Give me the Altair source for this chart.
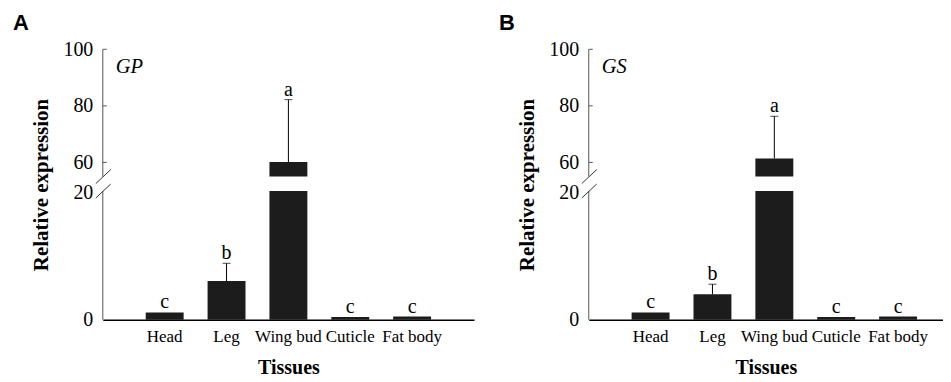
import altair as alt
import pandas as pd

tissues = ["Head", "Leg", "Wing bud", "Cuticle", "Fat body"]

gp_mean = [1.15, 6.1, 60.1, 0.42, 0.5]
gp_err = [0, 2.8, 22.1, 0, 0]
gp_letters = ["c", "b", "a", "c", "c"]

gs_mean = [1.15, 4.0, 61.4, 0.42, 0.5]
gs_err = [0, 1.6, 14.9, 0, 0]
gs_letters = ["c", "b", "a", "c", "c"]

y_labels = [0, 20, 60, 80, 100]
upper_ticks = [60, 80, 100]
break_low = 20.3
break_high = 55
y_max = 100

H = 271
RANGE = [H, 142, 127.5, 0]
SERIF = "Liberation Serif"
SANS = "Liberation Sans"


def panel(gene, means, errs, letters, label, width, po, al):
    df = pd.DataFrame({
        "tissue": tissues,
        "mean": means,
        "err": errs,
        "letter": letters,
    })
    df["top"] = df["mean"] + df["err"]

    yscale = alt.Scale(domain=[0, break_low, break_high, y_max], range=RANGE,
                       nice=False, zero=False)
    xenc = alt.X(
        "tissue:N", sort=tissues,
        scale=alt.Scale(domain=tissues, paddingInner=0.387, paddingOuter=po, align=al),
        axis=alt.Axis(title="Tissues", labelAngle=0, labelFont=SERIF, labelFontSize=17,
                      labelColor="black", labelPadding=9, ticks=False, tickSize=0,
                      labelOverlap=False, labelLimit=0,
                      domainColor="black", domainWidth=1.5,
                      titleFont=SERIF, titleFontSize=20, titleFontWeight="bold",
                      titleColor="black", titlePadding=13),
    )
    yaxis = alt.Axis(values=y_labels, title="Relative expression", domain=False,
                     ticks=False, tickSize=0, grid=False, labelFont=SERIF,
                     labelFontSize=20, labelColor="black", labelPadding=10,
                     titleFont=SERIF, titleFontSize=21, titleFontWeight="bold",
                     titleColor="black", titleAngle=270, titleBaseline="alphabetic",
                     titleX=-55, titleY=H / 2)

    def Y(field):
        return alt.Y(field, scale=yscale, axis=yaxis)

    base = alt.Chart(df)
    bars = base.mark_bar(color="#1c1c1c").encode(x=xenc, y=Y("mean:Q"))

    mask = alt.Chart(pd.DataFrame({"lo": [break_low], "hi": [break_high]})).mark_rect(
        color="white").encode(
        y=Y("lo:Q"), y2="hi:Q", x=alt.value(-4), x2=alt.value(width))

    segs = alt.Chart(pd.DataFrame({"y0": [0, break_high], "y1": [break_low, y_max]})).mark_rule(
        color="#555555", strokeWidth=1).encode(
        x=alt.value(0), y=Y("y0:Q"), y2="y1:Q")

    ticks = alt.Chart(pd.DataFrame({"v": upper_ticks})).mark_rule(
        color="#555555", strokeWidth=1).encode(
        y=Y("v:Q"), x=alt.value(0), x2=alt.value(4))

    one = pd.DataFrame({"k": [0]})
    slash_hi = alt.Chart(one).mark_rule(color="#333333", strokeWidth=1).encode(
        x=alt.value(-7), x2=alt.value(8),
        y=alt.value(RANGE[2] + 7), y2=alt.value(RANGE[2] - 7))
    slash_lo = alt.Chart(one).mark_rule(color="#333333", strokeWidth=1).encode(
        x=alt.value(-7), x2=alt.value(8),
        y=alt.value(RANGE[1] + 7), y2=alt.value(RANGE[1] - 7))

    eb = base.transform_filter("datum.err > 0")
    err_rule = eb.mark_rule(color="black", strokeWidth=1).encode(
        x=xenc, y=Y("mean:Q"), y2="top:Q")
    caps = eb.mark_tick(color="black", thickness=1, size=8).encode(
        x=xenc, y=Y("top:Q"))

    letters_t = base.mark_text(font=SERIF, fontSize=20, baseline="alphabetic", dy=-4,
                               color="black").encode(
        x=xenc, y=Y("top:Q"), text="letter:N")

    gene_t = alt.Chart(pd.DataFrame({"g": [gene]})).mark_text(
        font=SERIF, fontSize=20.5, fontStyle="italic", align="left", baseline="alphabetic",
        color="black").encode(x=alt.value(13), y=alt.value(24), text="g:N")

    label_t = alt.Chart(pd.DataFrame({"p": [label]})).mark_text(
        font=SANS, fontSize=22, fontWeight="bold", align="left", baseline="alphabetic",
        color="black").encode(x=alt.value(-90), y=alt.value(-19), text="p:N")

    return alt.layer(bars, mask, segs, ticks, slash_hi, slash_lo, err_rule, caps,
                     letters_t, gene_t, label_t).properties(width=width, height=H)


pa = panel("GP", gp_mean, gp_err, gp_letters, "A", 372, 0.694, 0.5)
pb = panel("GS", gs_mean, gs_err, gs_letters, "B", 355, 0.556, 0.623)

chart = alt.hconcat(pa, pb, spacing=25).configure_view(stroke=None).properties(
    padding={"left": 5, "top": 4, "right": 0, "bottom": 0})

chart.save("out.html", embed_options={"renderer": "svg", "actions": False})
